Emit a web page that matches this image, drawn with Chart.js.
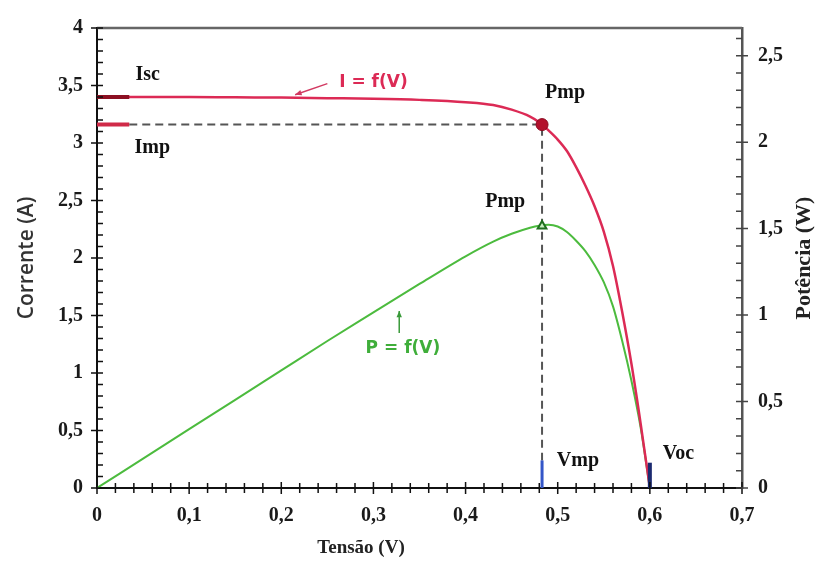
<!DOCTYPE html>
<html>
<head>
<meta charset="utf-8">
<script src="https://cdn.jsdelivr.net/npm/chart.js@4.4.1/dist/chart.umd.min.js"></script>
<style>
  html, body { margin: 0; padding: 0; background: #fff; }
</style>
</head>
<body>
<canvas id="chart" width="817" height="561"></canvas>
<script>
'use strict'

// ************* Curve data ****************
let voltage = [0, 0.05, 0.1, 0.15, 0.2, 0.25, 0.3, 0.35, 0.4, 0.43, 0.45, 0.47, 0.48, 0.49, 0.5, 0.51, 0.52, 0.53, 0.54, 0.55, 0.56, 0.57, 0.58, 0.59, 0.6];
let current = [3.40, 3.40, 3.40, 3.397, 3.395, 3.39, 3.385, 3.375, 3.355, 3.33, 3.29, 3.23, 3.18, 3.11, 3.03, 2.93, 2.79, 2.63, 2.45, 2.23, 1.93, 1.53, 1.08, 0.56, 0];
let power = [0, 0.17, 0.34, 0.51, 0.68, 0.85, 1.015, 1.18, 1.34, 1.425, 1.47, 1.505, 1.517, 1.522, 1.512, 1.48, 1.43, 1.37, 1.29, 1.19, 1.05, 0.85, 0.62, 0.35, 0];

// ************* Key points ****************
let isc = 3.40;
let imp = 3.16;
let vmp = 0.483;
let voc = 0.6;
let pmp = 1.515;

// tick labels
let voltageTicks = [0, 0.1, 0.2, 0.3, 0.4, 0.5, 0.6, 0.7];
let currentTicks = [0, 0.5, 1, 1.5, 2, 2.5, 3, 3.5, 4];
let powerTicks = [0, 0.5, 1, 1.5, 2, 2.5];

// ************* Style ****************
const RED = '#dc2a55';
const GREEN = '#4cbb3e';
const SERIF = "'Liberation Serif', 'Times New Roman', serif";
const stubLen = 0.035;   // short marks at the current axis
const barH = 0.24;       // blue marks at the voltage axis

function fmt(v) {
  return String(Math.round(v * 10) / 10).replace('.', ',');
}

function pts(xs, ys) {
  let out = [];
  for (let i = 0; i < xs.length; i++) {
    out.push({x: xs[i], y: ys[i]});
  }
  return out;
}

function drawArrow(ctx, x1, y1, x2, y2, color) {
  let a = Math.atan2(y2 - y1, x2 - x1);
  ctx.save();
  ctx.strokeStyle = color;
  ctx.fillStyle = color;
  ctx.lineWidth = 1.5;
  ctx.beginPath();
  ctx.moveTo(x1, y1);
  ctx.lineTo(x2, y2);
  ctx.stroke();
  ctx.beginPath();
  ctx.moveTo(x2, y2);
  ctx.lineTo(x2 - 7 * Math.cos(a - 0.4), y2 - 7 * Math.sin(a - 0.4));
  ctx.lineTo(x2 - 7 * Math.cos(a + 0.4), y2 - 7 * Math.sin(a + 0.4));
  ctx.closePath();
  ctx.fill();
  ctx.restore();
}

// ticks, frame, titles and labels
const decorations = {
  id: 'decorations',
  afterDraw(chart) {
    const ctx = chart.ctx;
    const xs = chart.scales.x;
    const ys = chart.scales.y;
    const ps = chart.scales.y2;
    const area = chart.chartArea;

    ctx.save();
    // top frame line
    ctx.strokeStyle = '#666';
    ctx.lineWidth = 2.5;
    ctx.beginPath();
    ctx.moveTo(area.left, area.top);
    ctx.lineTo(area.right, area.top);
    ctx.stroke();

    ctx.strokeStyle = '#111';
    ctx.lineWidth = 1.5;
    ctx.beginPath();
    // voltage ticks every 0.02
    for (let i = 0; i <= 35; i++) {
      let px = xs.getPixelForValue(i * 0.02);
      let len = i % 5 === 0 ? 6 : 5;
      ctx.moveTo(px, area.bottom - len);
      ctx.lineTo(px, area.bottom + len);
    }
    // current ticks every 0.1
    for (let i = 0; i <= 40; i++) {
      let py = ys.getPixelForValue(i * 0.1);
      ctx.moveTo(area.left + 6, py);
      ctx.lineTo(area.left - (i % 5 === 0 ? 6 : 0), py);
    }
    ctx.stroke();

    // power ticks every 0.1
    ctx.strokeStyle = '#444';
    ctx.beginPath();
    for (let i = 0; i <= 26; i++) {
      let py = ps.getPixelForValue(i * 0.1);
      ctx.moveTo(area.right - 6, py);
      ctx.lineTo(area.right + (i % 5 === 0 ? 6 : 0), py);
    }
    ctx.stroke();

    // axis titles
    ctx.fillStyle = '#222';
    ctx.textAlign = 'center';
    ctx.textBaseline = 'middle';
    ctx.font = 'bold 19px ' + SERIF;
    ctx.fillText('Tensão (V)', 361, 548);

    ctx.save();
    ctx.translate(27, (area.top + area.bottom) / 2);
    ctx.rotate(-Math.PI / 2);
    ctx.font = "600 21px 'Open Sans', sans-serif";
    ctx.fillStyle = '#333';
    ctx.fillText('Corrente (A)', 0, 0);
    ctx.restore();

    ctx.save();
    ctx.translate(804, (area.top + area.bottom) / 2);
    ctx.rotate(-Math.PI / 2);
    ctx.font = 'bold 22px ' + SERIF;
    ctx.fillText('Potência (W)', 0, 0);
    ctx.restore();

    // point labels
    ctx.font = 'bold 20px ' + SERIF;
    ctx.fillStyle = '#111';
    let labels = [
      ['Isc', 0.055, 3.59],
      ['Imp', 0.06, 2.96],
      ['Pmp', 0.508, 3.44],
      ['Pmp', 0.443, 2.49],
      ['Vmp', 0.522, 0.233],
      ['Voc', 0.631, 0.30]
    ];
    labels.forEach(function (l) {
      ctx.fillText(l[0], xs.getPixelForValue(l[1]), ys.getPixelForValue(l[2]));
    });

    // curve names with arrows
    ctx.font = "bold 17px 'DejaVu Sans', sans-serif";
    ctx.fillStyle = RED;
    ctx.fillText('I = f(V)', xs.getPixelForValue(0.30), ys.getPixelForValue(3.525));
    drawArrow(ctx, xs.getPixelForValue(0.25), ys.getPixelForValue(3.516),
      xs.getPixelForValue(0.215), ys.getPixelForValue(3.42), '#d23a62');

    ctx.fillStyle = '#3fae3a';
    ctx.fillText('P = f(V)', xs.getPixelForValue(0.332), ys.getPixelForValue(1.21));
    drawArrow(ctx, xs.getPixelForValue(0.328), ys.getPixelForValue(1.348),
      xs.getPixelForValue(0.328), ys.getPixelForValue(1.54), '#3a9a3a');
    ctx.restore();
  }
};

function axisTicks(values) {
  return function (scale) {
    scale.ticks = values.map(function (v) { return {value: v}; });
  };
}

let chart = new Chart(document.getElementById('chart'), {
  type: 'scatter',
  data: {
    datasets: [
      {
        // Pmp on the current curve
        data: [{x: vmp, y: imp}],
        yAxisID: 'y',
        pointRadius: 6,
        pointBackgroundColor: '#b3102c',
        pointBorderColor: '#8a0a20',
        order: 0
      },
      {
        // Pmp on the power curve
        data: [{x: vmp, y: pmp}],
        yAxisID: 'y2',
        pointStyle: 'triangle',
        pointRadius: 5,
        pointBackgroundColor: '#c8f0c0',
        pointBorderColor: '#1f6e1f',
        pointBorderWidth: 2,
        order: 0
      },
      {
        label: 'I = f(V)',
        data: pts(voltage, current),
        yAxisID: 'y',
        showLine: true,
        borderColor: RED,
        borderWidth: 2.5,
        pointRadius: 0,
        cubicInterpolationMode: 'monotone',
        order: 1
      },
      {
        label: 'P = f(V)',
        data: pts(voltage, power),
        yAxisID: 'y2',
        showLine: true,
        borderColor: GREEN,
        borderWidth: 2,
        pointRadius: 0,
        cubicInterpolationMode: 'monotone',
        order: 2
      },
      {
        // Imp / Vmp guide
        data: [{x: stubLen, y: imp}, {x: vmp, y: imp}, {x: vmp, y: barH}],
        yAxisID: 'y',
        showLine: true,
        borderColor: '#555',
        borderWidth: 2,
        borderDash: [8, 5],
        pointRadius: 0,
        order: 3
      },
      {
        // Isc mark
        data: [{x: 0, y: isc}, {x: stubLen, y: isc}],
        yAxisID: 'y',
        showLine: true,
        borderColor: '#8c0f22',
        borderWidth: 4,
        pointRadius: 0,
        order: 0
      },
      {
        // Imp mark
        data: [{x: 0, y: imp}, {x: stubLen, y: imp}],
        yAxisID: 'y',
        showLine: true,
        borderColor: '#d02a48',
        borderWidth: 4,
        pointRadius: 0,
        order: 0
      },
      {
        // Vmp mark
        data: [{x: vmp, y: 0}, {x: vmp, y: barH}],
        yAxisID: 'y',
        showLine: true,
        borderColor: '#3456c8',
        borderWidth: 3,
        pointRadius: 0,
        order: 0
      },
      {
        // Voc mark
        data: [{x: voc, y: 0}, {x: voc, y: 0.22}],
        yAxisID: 'y',
        showLine: true,
        borderColor: '#1b2a70',
        borderWidth: 4,
        pointRadius: 0,
        order: 0
      }
    ]
  },
  options: {
    responsive: false,
    animation: false,
    layout: {padding: {top: 24}},
    plugins: {
      legend: {display: false},
      tooltip: {enabled: false}
    },
    scales: {
      x: {
        type: 'linear',
        min: 0,
        max: 0.7,
        afterBuildTicks: axisTicks(voltageTicks),
        afterFit: function (s) { s.height = 73; },
        ticks: {
          callback: fmt,
          color: '#1a1a1a',
          padding: 16,
          font: {family: SERIF, size: 20, weight: 'bold'}
        },
        grid: {display: false, drawTicks: false},
        border: {color: '#111', width: 2}
      },
      y: {
        position: 'left',
        min: 0,
        max: 4,
        afterBuildTicks: axisTicks(currentTicks),
        afterFit: function (s) { s.width = 97; },
        ticks: {
          callback: fmt,
          color: '#1a1a1a',
          padding: 14,
          font: {family: SERIF, size: 20, weight: 'bold'}
        },
        grid: {display: false, drawTicks: false},
        border: {color: '#111', width: 2}
      },
      y2: {
        position: 'right',
        min: 0,
        max: 2.66,
        afterBuildTicks: axisTicks(powerTicks),
        afterFit: function (s) { s.width = 75; },
        ticks: {
          callback: fmt,
          color: '#1a1a1a',
          padding: 16,
          font: {family: SERIF, size: 20, weight: 'bold'}
        },
        grid: {display: false, drawTicks: false},
        border: {color: '#555', width: 2.5}
      }
    }
  },
  plugins: [decorations]
});
</script>
</body>
</html>
